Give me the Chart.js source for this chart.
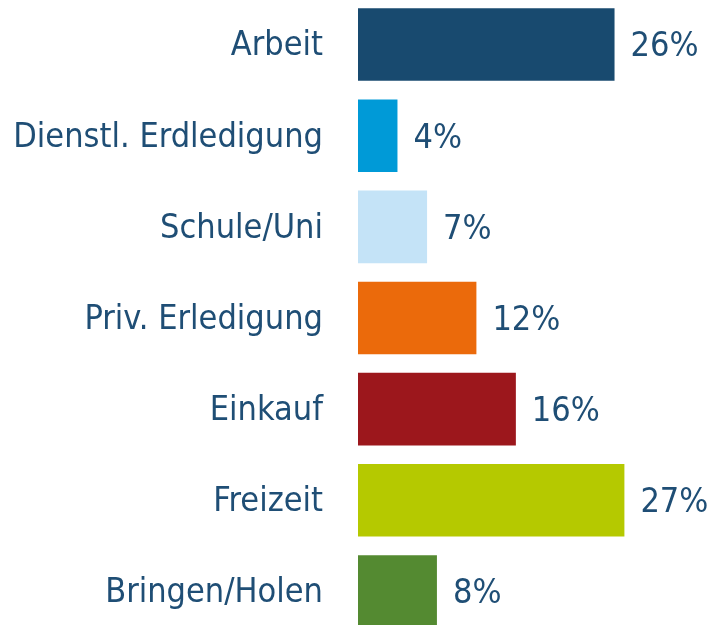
<!DOCTYPE html>
<html>
<head>
<meta charset="utf-8">
<script src="https://cdn.jsdelivr.net/npm/chart.js@4.4.1/dist/chart.umd.min.js"></script>
<style>
  html, body { margin: 0; padding: 0; background: #fff; overflow: hidden; }
  #wrap { position: absolute; left: 0; top: -1px; width: 710px; height: 638px; }
</style>
</head>
<body>
<div id="wrap"><canvas id="chart"></canvas></div>
<script>
const categories = ['Arbeit', 'Dienstl. Erdledigung', 'Schule/Uni', 'Priv. Erledigung', 'Einkauf', 'Freizeit', 'Bringen/Holen'];
const shares = [26, 4, 7, 12, 16, 27, 8];
const barColors = ['#184a6f', '#009ad7', '#c4e3f7', '#eb6a0b', '#9c171c', '#b5c900', '#548a31'];

const textColor = '#1f4e75';
const fontFamily = "'Liberation Sans Narrow', 'DejaVu Sans Condensed', 'Roboto', sans-serif";

// percent labels to the right of each bar
const valueLabels = {
  id: 'valueLabels',
  afterDatasetsDraw(chart) {
    const ctx = chart.ctx;
    const meta = chart.getDatasetMeta(0);
    ctx.save();
    ctx.font = '34px ' + fontFamily;
    ctx.fillStyle = textColor;
    ctx.textAlign = 'left';
    ctx.textBaseline = 'middle';
    meta.data.forEach((bar, i) => {
      ctx.fillText(shares[i] + '%', bar.x + 16, bar.y + 3);
    });
    ctx.restore();
  }
};

new Chart(document.getElementById('chart'), {
  type: 'bar',
  data: {
    labels: categories,
    datasets: [{
      data: shares,
      backgroundColor: barColors,
      borderWidth: 0,
      categoryPercentage: 1,
      barPercentage: 0.796
    }]
  },
  options: {
    indexAxis: 'y',
    responsive: true,
    maintainAspectRatio: false,
    devicePixelRatio: 1,
    animation: false,
    layout: { padding: { left: 0, right: 56, top: 0, bottom: 0 } },
    plugins: { legend: { display: false }, tooltip: { enabled: false } },
    scales: {
      x: { display: false, min: 0, max: 30 },
      y: {
        afterFit(scale) {
          scale.width = 358;
          scale.paddingTop = 0;
          scale.paddingBottom = 0;
        },
        grid: { display: false },
        border: { display: false },
        ticks: {
          color: textColor,
          padding: 27,
          labelOffset: 2,
          font: { family: fontFamily, size: 34 }
        }
      }
    }
  },
  plugins: [valueLabels]
});
</script>
</body>
</html>
